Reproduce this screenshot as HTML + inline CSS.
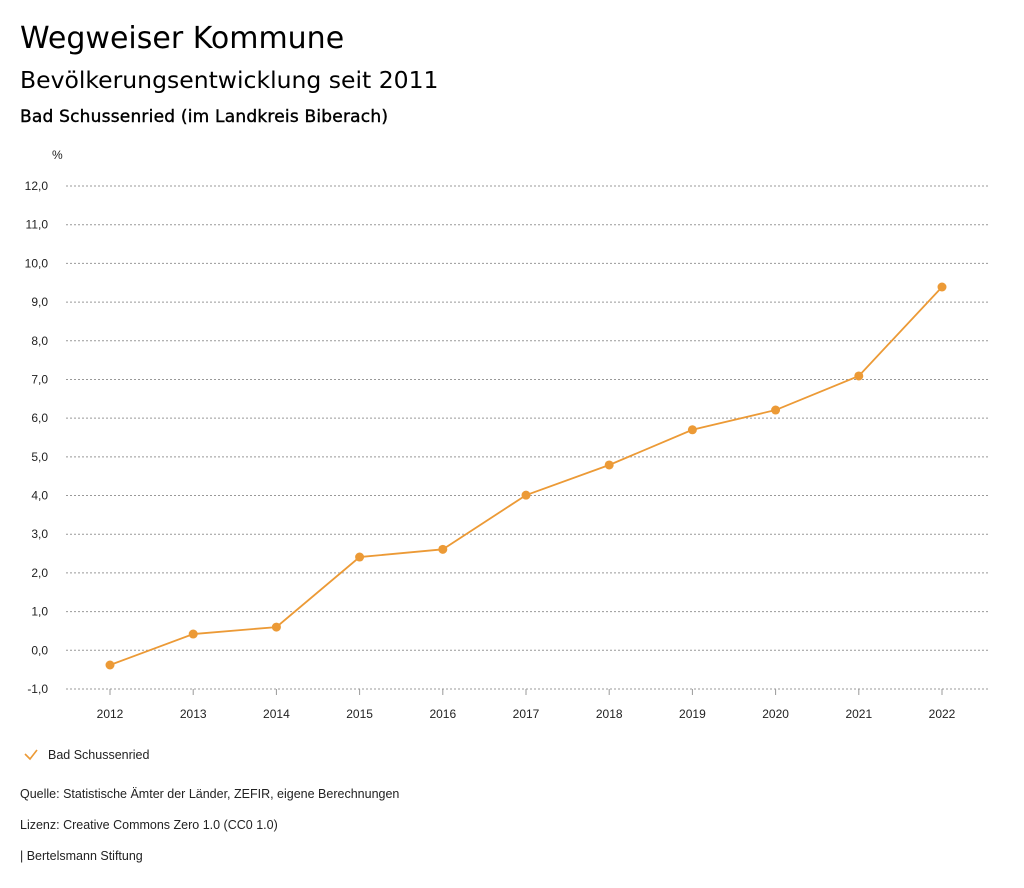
<!DOCTYPE html>
<html><head><meta charset="utf-8"><style>
body{margin:0;background:#fff;font-family:"Liberation Sans",sans-serif;}
svg{display:block}
</style></head><body>
<svg width="1024" height="888" xmlns="http://www.w3.org/2000/svg" id="chart">
<text x="20" y="48" font-size="30" font-family="DejaVu Sans, sans-serif" fill="#000">Wegweiser Kommune</text>
<text x="20" y="88" font-size="23.5" font-family="DejaVu Sans, sans-serif" fill="#000">Bevölkerungsentwicklung seit 2011</text>
<text x="20" y="122" font-size="17" font-family="DejaVu Sans, sans-serif" fill="#000" stroke="#000" stroke-width="0.4" textLength="368">Bad Schussenried (im Landkreis Biberach)</text>
<text x="52" y="159" font-size="12" fill="#222">%</text>
<g id="grid"></g><g id="xaxis"></g><g id="series"></g>
<g>
<path d="M25 754 L30 759 L37 750" stroke="#ec9a36" stroke-width="1.6" fill="none"/>
<text x="48" y="759" font-size="12.5" fill="#222">Bad Schussenried</text></g>
<text x="20" y="798" font-size="12.5" fill="#222">Quelle: Statistische Ämter der Länder, ZEFIR, eigene Berechnungen</text>
<text x="20" y="829" font-size="12.5" fill="#222">Lizenz: Creative Commons Zero 1.0 (CC0 1.0)</text>
<text x="20" y="860" font-size="12.5" fill="#222">| Bertelsmann Stiftung</text>
</svg>
<script>
const years=["2012","2013","2014","2015","2016","2017","2018","2019","2020","2021","2022"];
const values=[-0.38,0.42,0.6,2.41,2.61,4.01,4.79,5.7,6.21,7.09,9.39];
const yTicks=[-1,0,1,2,3,4,5,6,7,8,9,10,11,12];
const NS="http://www.w3.org/2000/svg";
const yS=v=>650.3-v*38.69;
const xS=i=>110+i*83.2;
function mk(t,a,p){const e=document.createElementNS(NS,t);for(const k in a)e.setAttribute(k,a[k]);p.appendChild(e);return e;}
const g=document.getElementById('grid');
yTicks.forEach(v=>{
 const l=mk('line',{x1:66,x2:990,y1:yS(v),y2:yS(v),stroke:'#999','stroke-dasharray':'2,2','stroke-width':1},g);
 
 
 const t=mk('text',{x:48,y:yS(v)+4,'font-size':12,fill:'#222','text-anchor':'end'},g);
 t.textContent=v.toFixed(1).replace('.',',');
 
 
});
const xa=document.getElementById('xaxis');
years.forEach((y,i)=>{
 const tk=mk('line',{x1:xS(i),x2:xS(i),y1:689,y2:695,stroke:'#999'},xa);
 
 
 const t=mk('text',{x:xS(i),y:718,'font-size':12,fill:'#222','text-anchor':'middle'},xa);
 t.textContent=y;
 
 
});
const s=document.getElementById('series');
const line=mk('polyline',{points:values.map((v,i)=>xS(i)+','+yS(v)).join(' '),fill:'none',stroke:'#ec9a36','stroke-width':1.8},s);


values.forEach((v,i)=>{
 const c=mk('circle',{cx:xS(i),cy:yS(v),r:4.5,fill:'#ec9a36'},s);
 
 
});
</script>
</body></html>
